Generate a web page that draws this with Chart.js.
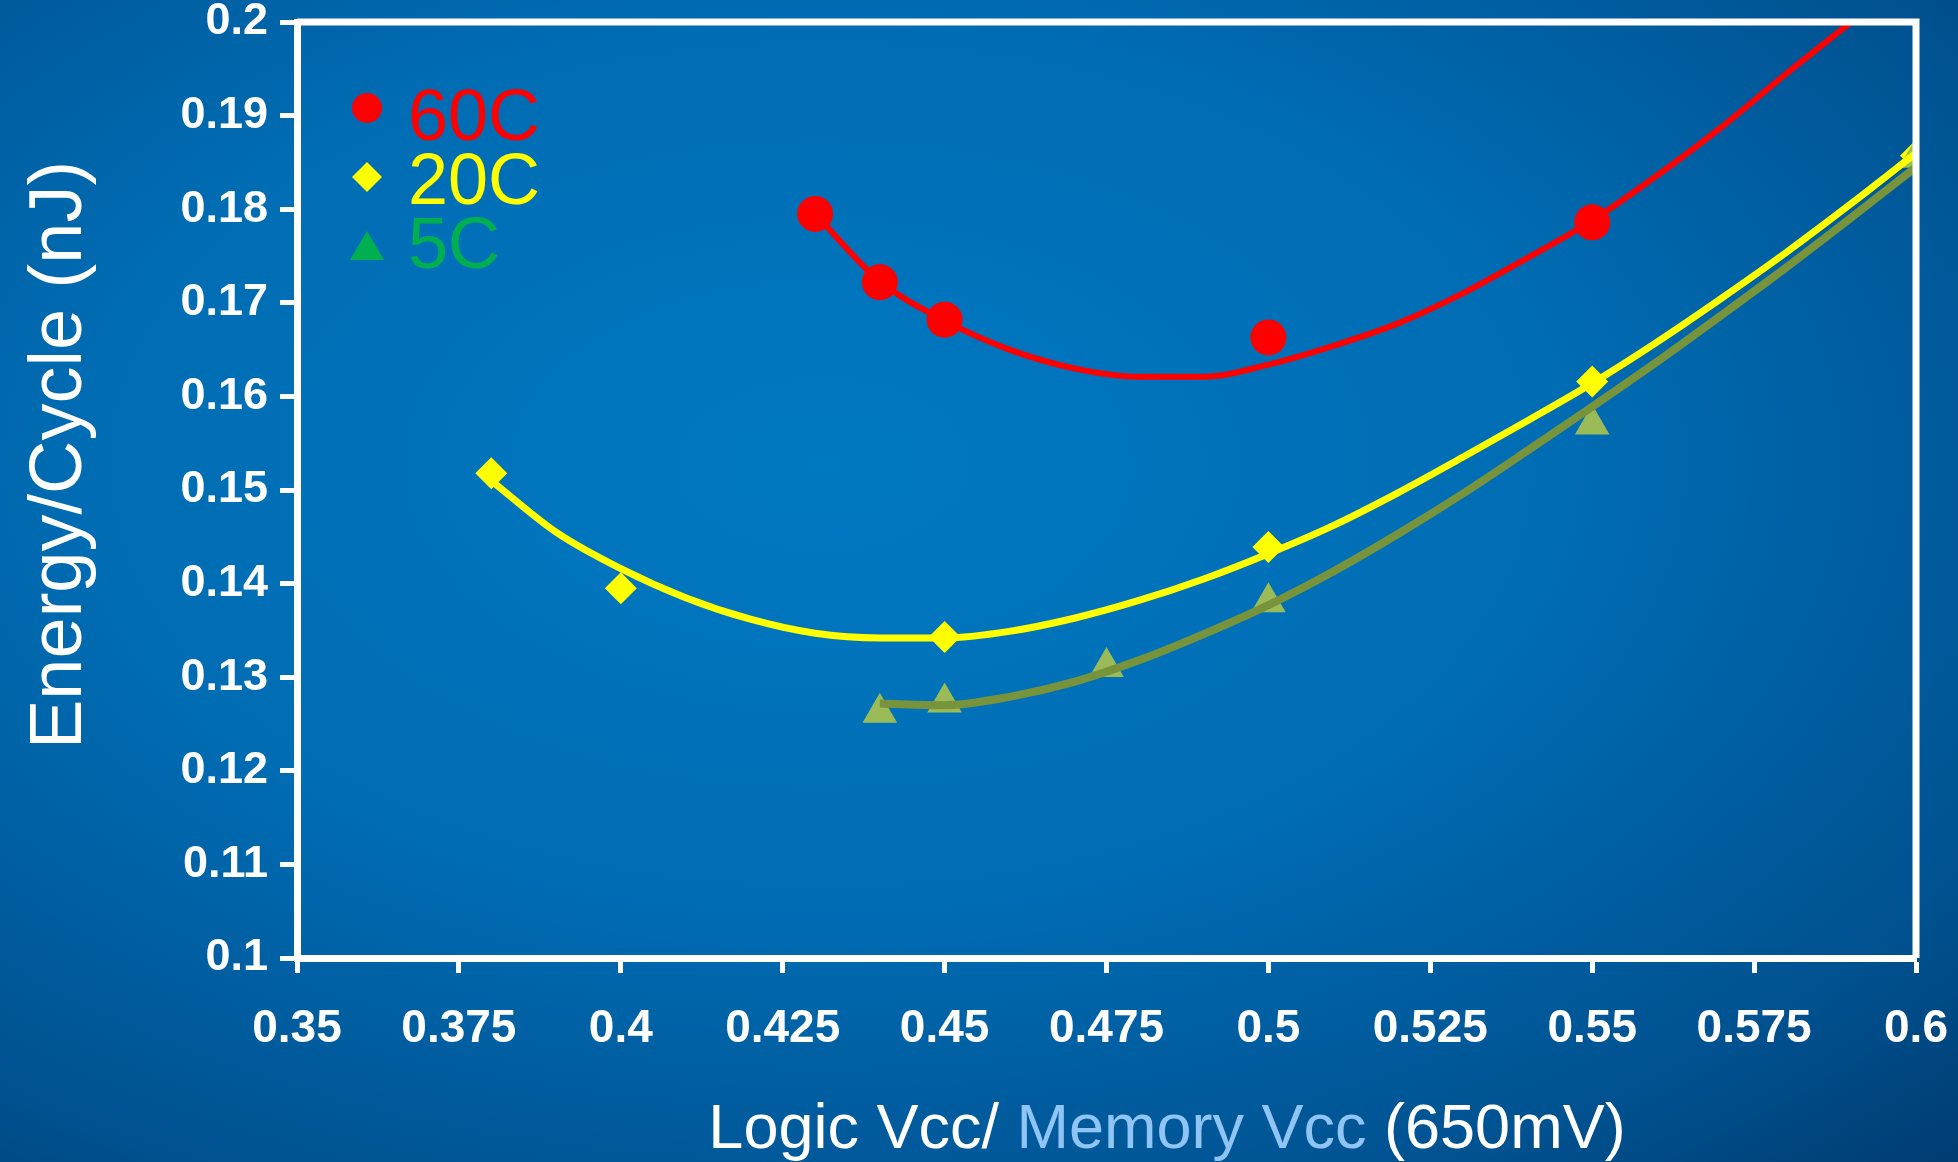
<!DOCTYPE html>
<html>
<head>
<meta charset="utf-8">
<script src="https://cdn.jsdelivr.net/npm/chart.js@4.4.0/dist/chart.umd.min.js"></script>
<style>
  html, body { margin: 0; padding: 0; }
  body {
    width: 1958px; height: 1162px; overflow: hidden;
    background: radial-gradient(ellipse 95% 95% at 42% 40%, #0079c2 0%, #006cb3 40%, #00518f 72%, #002c5a 100%);
  }
  #wrap { position: relative; width: 1958px; height: 1162px; }
</style>
</head>
<body>
<div id="wrap"><canvas id="c" width="1958" height="1162"></canvas></div>
<script>
// measured points
const vcc60 = [0.43, 0.44, 0.45, 0.50, 0.55];
const energy60 = [0.1795, 0.1722, 0.1682, 0.1663, 0.1786];
const vcc20 = [0.38, 0.40, 0.45, 0.50, 0.55, 0.60];
const energy20 = [0.1518, 0.1395, 0.1343, 0.1439, 0.1616, 0.1857];
const vcc5 = [0.44, 0.45, 0.475, 0.50, 0.55, 0.60];
const energy5 = [0.1262, 0.1273, 0.1311, 0.1380, 0.1570, 0.1855];

// trend lines
const fitVcc60 = [0.43, 0.44, 0.45, 0.46, 0.47, 0.48, 0.49, 0.50, 0.51, 0.52, 0.53, 0.54, 0.55, 0.56, 0.57, 0.58, 0.59];
const fit60 = [0.1795, 0.1723, 0.1681, 0.1650, 0.1630, 0.1621, 0.1621, 0.1634, 0.1654, 0.1678, 0.1710, 0.1748, 0.1788, 0.1836, 0.1888, 0.1945, 0.2000];
const fitVcc20 = [0.38, 0.39, 0.40, 0.41, 0.42, 0.43, 0.44, 0.45, 0.46, 0.47, 0.48, 0.49, 0.50, 0.51, 0.52, 0.53, 0.54, 0.55, 0.56, 0.57, 0.58, 0.59, 0.60];
const fit20 = [0.1510, 0.1455, 0.1416, 0.1385, 0.1362, 0.1347, 0.1342, 0.1342, 0.1349, 0.1363, 0.1382, 0.1405, 0.1432, 0.1462, 0.1497, 0.1535, 0.1574, 0.1614, 0.1658, 0.1705, 0.1754, 0.1806, 0.1860];
const fitVcc5 = [0.44, 0.45, 0.46, 0.47, 0.48, 0.49, 0.50, 0.51, 0.52, 0.53, 0.54, 0.55, 0.56, 0.57, 0.58, 0.59, 0.60];
const fit5 = [0.1272, 0.1270, 0.1279, 0.1295, 0.1318, 0.1346, 0.1377, 0.1413, 0.1453, 0.1496, 0.1542, 0.1589, 0.1637, 0.1687, 0.1738, 0.1791, 0.1845];

const legendItems = [
  { label: "60C", color: "#ff0000", shape: "circle" },
  { label: "20C", color: "#ffff00", shape: "diamond" },
  { label: "5C", color: "#00b050", shape: "triangle" },
];

const FONT = "'Liberation Sans', Arial, sans-serif";
const pts = (xs, ys) => xs.map((x, i) => ({ x, y: ys[i] }));

// frame, legend and axis titles
const decor = {
  id: "decor",
  afterDraw(chart) {
    const { ctx, chartArea: a } = chart;
    ctx.save();
    ctx.strokeStyle = "#ffffff";
    ctx.lineWidth = 7;
    ctx.beginPath();
    ctx.moveTo(a.left, a.top);
    ctx.lineTo(a.right, a.top);
    ctx.lineTo(a.right, a.bottom);
    ctx.stroke();

    // legend
    ctx.font = "72px " + FONT;
    ctx.textBaseline = "alphabetic";
    const rows = [108, 177, 250];
    const base = [140, 204, 268];
    legendItems.forEach((it, i) => {
      const x = 367, y = rows[i];
      ctx.fillStyle = it.color;
      ctx.beginPath();
      if (it.shape === "circle") {
        ctx.arc(x, y, 15, 0, Math.PI * 2);
      } else if (it.shape === "diamond") {
        ctx.moveTo(x, y - 15); ctx.lineTo(x + 15, y); ctx.lineTo(x, y + 15); ctx.lineTo(x - 15, y);
      } else {
        ctx.moveTo(x, y - 19); ctx.lineTo(x + 17, y + 10); ctx.lineTo(x - 17, y + 10);
      }
      ctx.closePath();
      ctx.fill();
      ctx.fillText(it.label, 408, base[i]);
    });

    // y title
    ctx.save();
    ctx.translate(81, 455);
    ctx.rotate(-Math.PI / 2);
    ctx.font = "74px " + FONT;
    ctx.fillStyle = "#ffffff";
    ctx.textAlign = "center";
    ctx.fillText("Energy/Cycle (nJ)", 0, 0);
    ctx.restore();

    // x title, two colours
    ctx.font = "63px " + FONT;
    ctx.textAlign = "left";
    const parts = [["Logic Vcc/ ", "#ffffff"], ["Memory Vcc", "#8fc4f5"], [" (650mV)", "#ffffff"]];
    const total = parts.reduce((s, p) => s + ctx.measureText(p[0]).width, 0);
    let x = 1167 - total / 2;
    parts.forEach(([t, c]) => {
      ctx.fillStyle = c;
      ctx.fillText(t, x, 1148);
      x += ctx.measureText(t).width;
    });
    ctx.restore();
  },
};

const line = { showLine: true, pointRadius: 0, cubicInterpolationMode: "monotone" };

new Chart(document.getElementById("c"), {
  type: "scatter",
  data: {
    datasets: [
      { label: "60C fit", data: pts(fitVcc60, fit60), ...line, borderColor: "#ff0000", borderWidth: 6, order: 1 },
      { label: "60C", data: pts(vcc60, energy60), pointStyle: "circle", pointRadius: 18, pointBorderWidth: 0, backgroundColor: "#ff0000", order: 2 },
      { label: "20C fit", data: pts(fitVcc20, fit20), ...line, borderColor: "#ffff00", borderWidth: 7, order: 3 },
      { label: "5C fit", data: pts(fitVcc5, fit5), ...line, borderColor: "#77933c", borderWidth: 8, order: 4 },
      { label: "5C", data: pts(vcc5, energy5), pointStyle: "triangle", pointRadius: 20, pointBorderWidth: 0, backgroundColor: "#9bbb59", order: 5 },
      { label: "20C", data: pts(vcc20, energy20), pointStyle: "rectRot", pointRadius: 16, pointBorderWidth: 0, backgroundColor: "#ffff00", order: 6 },
    ],
  },
  options: {
    responsive: false,
    animation: false,
    layout: { padding: { top: 22, right: 42, left: 0, bottom: 0 } },
    plugins: { legend: { display: false }, tooltip: { enabled: false } },
    scales: {
      x: {
        type: "linear",
        min: 0.35,
        max: 0.6,
        afterFit: (s) => { s.height = 204; s.paddingLeft = 0; s.paddingRight = 0; },
        afterBuildTicks: (s) => {
          s.ticks = [];
          for (let i = 0; i <= 10; i++) s.ticks.push({ value: +(0.35 + i * 0.025).toFixed(3) });
        },
        ticks: {
          color: "#ffffff",
          font: { family: FONT, size: 46, weight: "bold" },
          padding: 29,
          maxRotation: 0,
          callback: (v) => String(+v.toFixed(3)),
        },
        grid: { drawOnChartArea: false, color: "#ffffff", tickLength: 15, tickWidth: 5 },
        border: { color: "#ffffff", width: 7 },
      },
      y: {
        min: 0.1,
        max: 0.2,
        afterFit: (s) => { s.width = 297; s.paddingTop = 0; s.paddingBottom = 0; },
        afterBuildTicks: (s) => {
          s.ticks = [];
          for (let i = 0; i <= 10; i++) s.ticks.push({ value: +(0.1 + i * 0.01).toFixed(2) });
        },
        ticks: {
          color: "#ffffff",
          font: { family: FONT, size: 45, weight: "bold" },
          padding: 12,
          callback: (v) => String(+v.toFixed(2)),
        },
        grid: { drawOnChartArea: false, color: "#ffffff", tickLength: 17, tickWidth: 5 },
        border: { color: "#ffffff", width: 7 },
      },
    },
  },
  plugins: [decor],
});
</script>
</body>
</html>
